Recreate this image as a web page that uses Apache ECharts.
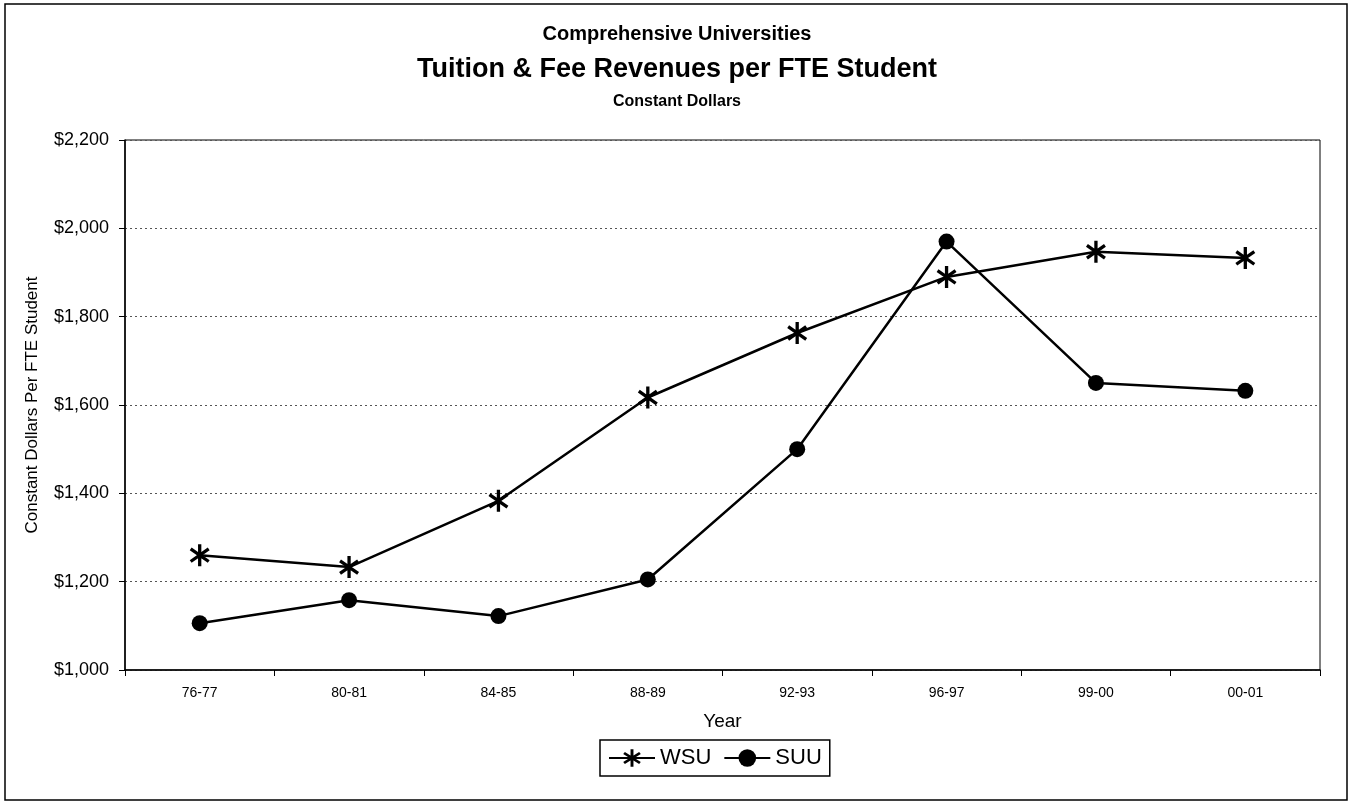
<!DOCTYPE html>
<html><head><meta charset="utf-8">
<script src="https://cdn.jsdelivr.net/npm/echarts@6/dist/echarts.min.js"></script>
<style>html,body{margin:0;padding:0;background:#fff}#c{width:1354px;height:803px}</style>
</head><body><div id="c"></div>
<script>
const categories = ['76-77','80-81','84-85','88-89','92-93','96-97','99-00','00-01'];
const wsu = [1260, 1233, 1383, 1617, 1763, 1890, 1947, 1933];
const suu = [1106, 1158, 1122, 1205, 1500, 1970, 1650, 1632];
const yTicks = [1000, 1200, 1400, 1600, 1800, 2000, 2200];

function asteriskPath(){
  const L = 10, w = 1.5; let p = '';
  [90, 35, 145].forEach(function(deg){
    const a = deg*Math.PI/180, c = Math.cos(a), s = Math.sin(a);
    const px = -s*w, py = c*w;
    const pts = [[L*c+px, L*s+py],[L*c-px, L*s-py],[-L*c-px,-L*s-py],[-L*c+px,-L*s+py]];
    p += 'M' + pts.map(q => (q[0]+10).toFixed(2)+' '+(q[1]+10).toFixed(2)).join(' L') + ' Z ';
  });
  return 'path://' + p;
}
const FONT = "'Liberation Sans Narrow','Arial Narrow','Liberation Sans',Arial,sans-serif";
const chart = echarts.init(document.getElementById('c'));
chart.setOption({
  animation:false,
  backgroundColor:'#fff',
  textStyle:{fontFamily:FONT},
  graphic:[
    {type:'rect', shape:{x:5,y:4,width:1342,height:796}, style:{fill:'none', stroke:'#000', lineWidth:1.5}, silent:true},
    {type:'text', left:'center', top:24, style:{text:'Comprehensive Universities', font:"bold 20px "+FONT, fill:'#000'}},
    {type:'text', left:'center', top:56, style:{text:'Tuition & Fee Revenues per FTE Student', font:"bold 27px "+FONT, fill:'#000'}},
    {type:'text', left:'center', top:94, style:{text:'Constant Dollars', font:"bold 16px "+FONT, fill:'#000'}}
  ],
  grid:{left:125, right:34, top:140, bottom:133, show:true, borderColor:'#000', borderWidth:1},
  legend:{
    top:740, left:600, itemWidth:46, itemHeight:22, itemGap:12,
    padding:[7,8,7,8], borderColor:'#000', borderWidth:1.5,
    textStyle:{fontSize:22, color:'#000', fontFamily:FONT},
    data:['WSU','SUU']
  },
  xAxis:{
    type:'category', data:categories, boundaryGap:true,
    name:'Year', nameLocation:'middle', nameGap:42,
    nameTextStyle:{fontSize:19, color:'#000', fontFamily:FONT},
    axisLine:{lineStyle:{color:'#000', width:1.5}},
    axisTick:{show:true, length:6, lineStyle:{color:'#000'}, interval:0},
    axisLabel:{fontSize:14, color:'#000', margin:16, fontFamily:FONT, interval:0},
    splitLine:{show:false}
  },
  yAxis:{
    type:'value', min:yTicks[0], max:yTicks[yTicks.length-1], interval:200,
    name:'Constant Dollars Per FTE Student', nameLocation:'middle', nameGap:84,
    nameTextStyle:{fontSize:17, color:'#000', fontFamily:FONT},
    axisLine:{show:true, lineStyle:{color:'#000', width:1.5}},
    axisTick:{show:true, length:6, lineStyle:{color:'#000'}},
    axisLabel:{fontSize:18, color:'#000', margin:16, fontFamily:FONT,
      formatter:function(v){return '$'+v.toLocaleString('en-US');}},
    splitLine:{show:true, lineStyle:{color:'#555', type:[2,3], width:1}}
  },
  series:[
    {name:'WSU', type:'line', data:wsu, symbol:asteriskPath(), symbolSize:22, symbolKeepAspect:true,
     showAllSymbol:true,
     lineStyle:{color:'#000', width:2.5}, itemStyle:{color:'#000', borderWidth:0}},
    {name:'SUU', type:'line', data:suu, symbol:'circle', symbolSize:16,
     showAllSymbol:true,
     lineStyle:{color:'#000', width:2.5}, itemStyle:{color:'#000', borderWidth:0}}
  ]
});
</script></body></html>
